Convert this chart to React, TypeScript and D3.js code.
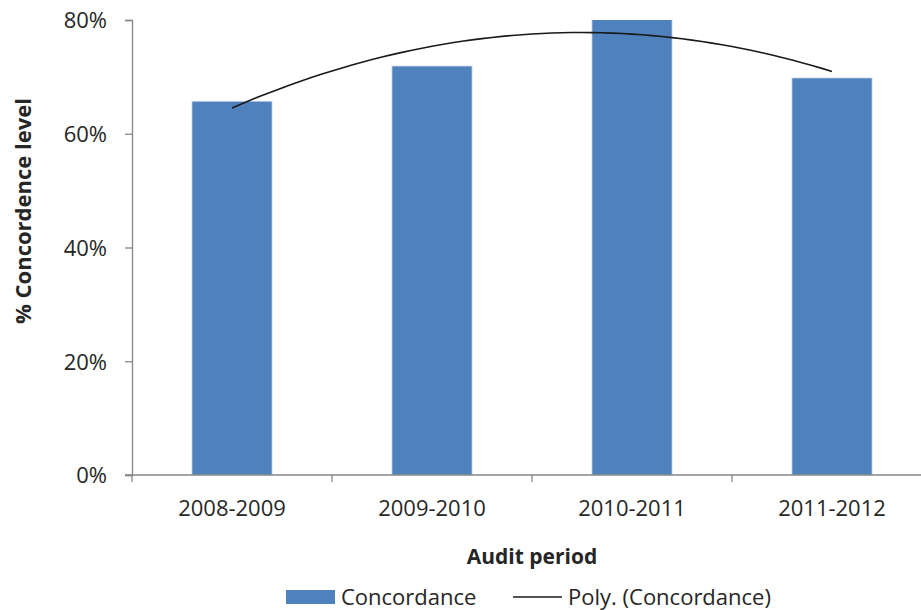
import * as d3 from "d3";
import { useEffect, useRef } from "react";

const periods = ["2008-2009", "2009-2010", "2010-2011", "2011-2012"];
const concordance = [65.7, 71.9, 81, 69.8];
const yTicks = [0, 20, 40, 60, 80];

// least squares fit of a 2nd order polynomial, like Excel's "Poly." trendline
function polyFit2(xs: number[], ys: number[]) {
    const s = (p: number) => d3.sum(xs, (x) => Math.pow(x, p));
    const t = (p: number) => d3.sum(xs, (x, i) => Math.pow(x, p) * ys[i]);
    const m = [
        [s(0), s(1), s(2), t(0)],
        [s(1), s(2), s(3), t(1)],
        [s(2), s(3), s(4), t(2)],
    ];
    for (let i = 0; i < 3; i++) {
        for (let k = i + 1; k < 3; k++) {
            const f = m[k][i] / m[i][i];
            for (let j = i; j < 4; j++) m[k][j] -= f * m[i][j];
        }
    }
    const c = [0, 0, 0];
    for (let i = 2; i >= 0; i--) {
        let v = m[i][3];
        for (let j = i + 1; j < 3; j++) v -= m[i][j] * c[j];
        c[i] = v / m[i][i];
    }
    return (x: number) => c[0] + c[1] * x + c[2] * x * x;
}

export default function App() {
    const ref = useRef<SVGSVGElement | null>(null);
    const width = 921;
    const height = 610;

    useEffect(() => {
        const svg = d3.select(ref.current);
        svg.selectAll("*").remove();

        const margin = { top: 20, left: 132, bottom: 475, right: 932 };
        const font = "'Open Sans', sans-serif";
        const textColor = "#262626";
        const axisColor = "#868686";

        const x = d3
            .scaleBand<string>()
            .domain(periods)
            .range([margin.left, margin.right])
            .paddingInner(0.6)
            .paddingOuter(0.3);
        const y = d3.scaleLinear().domain([0, 80]).range([margin.bottom, margin.top]);

        svg.append("defs")
            .append("clipPath")
            .attr("id", "plot-clip")
            .append("rect")
            .attr("x", margin.left)
            .attr("y", margin.top)
            .attr("width", margin.right - margin.left)
            .attr("height", margin.bottom - margin.top);

        // bars
        svg.append("g")
            .attr("clip-path", "url(#plot-clip)")
            .selectAll("rect")
            .data(concordance)
            .join("rect")
            .attr("x", (d, i) => x(periods[i]) ?? 0)
            .attr("y", (d) => y(d))
            .attr("width", x.bandwidth())
            .attr("height", (d) => y(0) - y(d))
            .attr("fill", "#4F81BD")
            .attr("stroke", "#B9CDE5")
            .attr("stroke-width", 0.8);

        // y axis
        const yAxis = svg.append("g")
            .attr("transform", `translate(${margin.left},0)`)
            .call(d3.axisLeft(y).tickValues(yTicks).tickSize(7).tickPadding(18).tickFormat((d) => `${d}%`));
        yAxis.select(".domain").attr("stroke", axisColor).attr("stroke-width", 1.3);
        yAxis.selectAll(".tick line").attr("stroke", axisColor).attr("stroke-width", 1.3);
        yAxis.selectAll("text")
            .attr("fill", textColor)
            .style("font-family", font)
            .style("font-size", "22px")
            .attr("dy", "0.36em");

        // x axis
        const xAxis = svg.append("g")
            .attr("transform", `translate(0,${margin.bottom})`)
            .call(d3.axisBottom(x).tickSize(0).tickPadding(0));
        xAxis.select(".domain").remove();
        xAxis.append("line")
            .attr("x1", margin.left - 7)
            .attr("x2", width)
            .attr("stroke", axisColor)
            .attr("stroke-width", 1.3);
        xAxis.selectAll(".tick text")
            .attr("fill", textColor)
            .attr("y", 41)
            .attr("dy", 0)
            .style("font-family", font)
            .style("font-size", "22px");
        xAxis.selectAll(".sep")
            .data(periods)
            .join("line")
            .attr("class", "sep")
            .attr("x1", (d) => (x(d) ?? 0) - x.step() * 0.3)
            .attr("x2", (d) => (x(d) ?? 0) - x.step() * 0.3)
            .attr("y1", 0)
            .attr("y2", 7)
            .attr("stroke", axisColor)
            .attr("stroke-width", 1.3);

        // polynomial trendline
        const idx = periods.map((_, i) => i + 1);
        const fit = polyFit2(idx, concordance);
        const xi = d3.scaleLinear()
            .domain([1, periods.length])
            .range([(x(periods[0]) ?? 0) + x.bandwidth() / 2, (x(periods[periods.length - 1]) ?? 0) + x.bandwidth() / 2]);
        const samples = d3.range(1, periods.length + 0.001, 0.05);
        svg.append("path")
            .datum(samples)
            .attr("fill", "none")
            .attr("stroke", "#1a1a1a")
            .attr("stroke-width", 1.6)
            .attr("d", d3.line<number>().x((d) => xi(d)).y((d) => y(fit(d))));

        // axis titles
        svg.append("text")
            .attr("x", (margin.left + margin.right) / 2)
            .attr("y", 564)
            .attr("text-anchor", "middle")
            .attr("fill", textColor)
            .style("font-family", font)
            .style("font-weight", "bold")
            .style("font-size", "21px")
            .text("Audit period");
        svg.append("text")
            .attr("transform", "rotate(-90)")
            .attr("x", -211)
            .attr("y", 31)
            .attr("text-anchor", "middle")
            .attr("fill", textColor)
            .style("font-family", font)
            .style("font-weight", "bold")
            .style("font-size", "22px")
            .text("% Concordence level");

        // legend
        const legend = svg.append("g");
        legend.append("rect")
            .attr("x", 286)
            .attr("y", 590)
            .attr("width", 49)
            .attr("height", 14)
            .attr("fill", "#4F81BD");
        legend.append("text")
            .attr("x", 341)
            .attr("y", 605)
            .attr("fill", textColor)
            .style("font-family", font)
            .style("font-size", "22px")
            .text("Concordance");
        legend.append("line")
            .attr("x1", 513)
            .attr("x2", 562)
            .attr("y1", 597)
            .attr("y2", 597)
            .attr("stroke", "#1a1a1a")
            .attr("stroke-width", 1.6);
        legend.append("text")
            .attr("x", 568)
            .attr("y", 605)
            .attr("fill", textColor)
            .style("font-family", font)
            .style("font-size", "22px")
            .text("Poly. (Concordance)");
    }, []);

    return (
        <svg
            ref={ref}
            width={width}
            height={height}
            style={{ position: "absolute", left: 0, top: 0, background: "#fff" }}
        />
    );
}
